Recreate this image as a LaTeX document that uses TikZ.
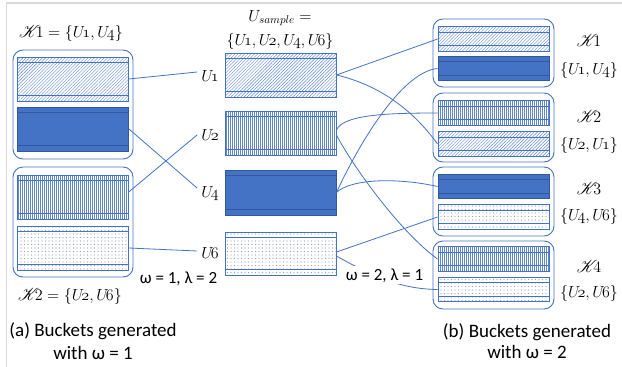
\RequirePackage{fix-cm}
\documentclass[tikz,border=0pt]{standalone}
\usepackage{mathrsfs}
\usepackage{fontspec}
\newfontfamily\capfont{Carlito}
\usetikzlibrary{patterns.meta}
\definecolor{ob}{RGB}{68,114,196}
\definecolor{obd}{RGB}{50,88,160}
\definecolor{framegray}{RGB}{217,217,217}
\definecolor{dotcol}{RGB}{150,160,185}
\newcommand\Uo[1]{U\mkern-3mu\mathnormal{#1}}
\newcommand\Kn[1]{\mathscr{K}\mkern-5mu#1}
\tikzset{
  barline/.store in=\barlinecol, barline=ob,
  bar/.style={draw=ob, line width=0.9pt, minimum width=111pt, inner sep=0pt,
    path picture={\draw[draw=\barlinecol, line width=0.9pt]
      ([yshift=-5.5pt]path picture bounding box.north west) -- ([yshift=-5.5pt]path picture bounding box.north east)
      ([yshift=5.5pt]path picture bounding box.south west) -- ([yshift=5.5pt]path picture bounding box.south east);}},
  hatchD/.style={bar, pattern={Lines[angle=45,distance=2.3pt,line width=0.4pt]}, pattern color=ob!85},
  hatchV/.style={bar, pattern={Lines[angle=90,distance=2pt,line width=0.35pt]}, pattern color=ob!85},
  dotsP/.style={bar, pattern={Dots[distance=3.5pt,radius=0.55pt]}, pattern color=dotcol},
  solidP/.style={bar, fill=ob, draw=obd, barline=obd},
  grp/.style={draw=ob, line width=0.9pt, rounded corners=10pt, inner sep=0pt},
  mlab/.style={font=\fontsize{16}{19}\selectfont, inner sep=1pt, anchor=base},
  ulab/.style={mlab, inner sep=4pt},
  capt/.style={font=\capfont\fontsize{19}{22}\selectfont, anchor=base, inner sep=1pt},
  wl/.style={font=\capfont\fontsize{17}{20}\selectfont, anchor=base, inner sep=2pt},
  conn/.style={draw=ob, line width=0.8pt}
}
\begin{document}
\begin{tikzpicture}[x=1pt,y=-1pt]
\useasboundingbox (0,0) rectangle (622,367);
\fill[white] (0,0) rectangle (622,367);
\draw[framegray, line width=1.6pt] (6.5,367) -- (6.5,3) -- (622,3);

% left buckets (omega = 1)
\node[grp, minimum width=120pt, minimum height=109pt] (LG1) at (73,104.5) {};
\node[grp, minimum width=120pt, minimum height=110pt] (LG2) at (73,222) {};
\node[hatchD, minimum height=44pt] (lb1) at (73,79) {};
\node[solidP, minimum height=44pt] (lb2) at (73,129) {};
\node[hatchV, minimum height=44pt] (lb3) at (73,197) {};
\node[dotsP,  minimum height=44pt] (lb4) at (73,248) {};
\node[mlab] (tK1) at (71,37) {$\Kn1 =\{\Uo1,\Uo4\}$};
\node[mlab] (tK2) at (70,300) {$\Kn2 =\{\Uo2,\Uo6\}$};

% sampled users
\node[mlab] (tS) at (280,21) {$U_{sample} =$};
\node[mlab] (tSet) at (280,45) {$\{\Uo1,\Uo2,\Uo4,\Uo6\}$};
\node[hatchD, minimum height=44pt] (m1) at (280.5,75) {};
\node[hatchV, minimum height=44pt] (m2) at (280.5,133) {};
\node[solidP, minimum height=45pt] (m4) at (280.5,192.5) {};
\node[dotsP,  minimum height=43pt] (m6) at (280.5,253.5) {};
\node[ulab] (u1) at (210,81) {$\Uo1$};
\node[ulab] (u2) at (210,140) {$\Uo2$};
\node[ulab] (u4) at (210,197) {$\Uo4$};
\node[ulab] (u6) at (210,258) {$\Uo6$};

% right buckets (omega = 2)
\node[grp, minimum width=121pt, minimum height=68pt] (RG1) at (493.5,53) {};
\node[grp, minimum width=121pt, minimum height=69pt] (RG2) at (493.5,127.5) {};
\node[grp, minimum width=121pt, minimum height=69pt] (RG3) at (493.5,201.5) {};
\node[grp, minimum width=121pt, minimum height=68pt] (RG4) at (493.5,275) {};
\node[hatchD, minimum height=24.5pt] (ra) at (493.5,39) {};
\node[solidP, minimum height=24.5pt] (rb) at (493.5,68.5) {};
\node[hatchV, minimum height=24.5pt] (rc) at (493.5,113) {};
\node[hatchD, minimum height=24.5pt] (rd) at (493.5,144) {};
\node[solidP, minimum height=24.5pt] (re) at (493.5,186.5) {};
\node[dotsP,  minimum height=24.5pt] (rf) at (493.5,217) {};
\node[hatchV, minimum height=24.5pt] (rg) at (493.5,259) {};
\node[dotsP,  minimum height=24.5pt] (rh) at (493.5,289.5) {};
\node[mlab] (k1) at (589,46) {$\Kn1$};
\node[mlab] (s1) at (589,74) {$\{\Uo1,\Uo4\}$};
\node[mlab] (k2) at (589,122) {$\Kn2$};
\node[mlab] (s2) at (589,149) {$\{\Uo2,\Uo1\}$};
\node[mlab] (k3) at (589,194) {$\Kn3$};
\node[mlab] (s3) at (589,220) {$\{\Uo4,\Uo6\}$};
\node[mlab] (k4) at (589,272) {$\Kn4$};
\node[mlab] (s4) at (589,297) {$\{\Uo2,\Uo6\}$};

% left connectors
\draw[conn] (lb1.east) -- ([yshift=9pt]u1.base west);
\draw[conn] (lb2.east) -- ([yshift=9pt]u4.base west);
\draw[conn] ([yshift=5pt]lb3.east) -- ([yshift=5pt]u2.base west);
\draw[conn] (lb4.east) -- ([yshift=7pt]u6.base west);

% right connectors
\draw[conn] (m1.east) -- (ra.west);
\draw[conn] (m1.east) .. controls (375,84) and (410,106) .. (rd.west);
\draw[conn] ([yshift=3pt]m2.east) .. controls (343,115) and (385,113) .. (rc.west);
\draw[conn] ([yshift=-2pt]m2.east) .. controls (352,165) and (400,232) .. (rg.west);
\draw[conn] (m4.east) .. controls (356,150) and (400,72) .. (rb.west);
\draw[conn] (m4.east) .. controls (352,178) and (400,178) .. (re.west);
\draw[conn] ([yshift=1.5pt]m6.east) -- (rf.west);
\draw[conn] ([yshift=-2.5pt]m6.east) .. controls (372,276) and (400,289) .. (rh.west);

% parameter labels and captions
\node[wl] (w1) at (178.5,283) {ω = 1, λ = 2};
\node[wl, fill=white] (w2) at (384.5,280) {ω = 2, λ = 1};
\node[capt] (ca1) at (93,336) {(a) Buckets generated};
\node[capt] (ca2) at (93,359) {with ω = 1};
\node[capt] (cb1) at (527,337) {(b) Buckets generated};
\node[capt] (cb2) at (527,358) {with ω = 2};
\end{tikzpicture}
\end{document}
